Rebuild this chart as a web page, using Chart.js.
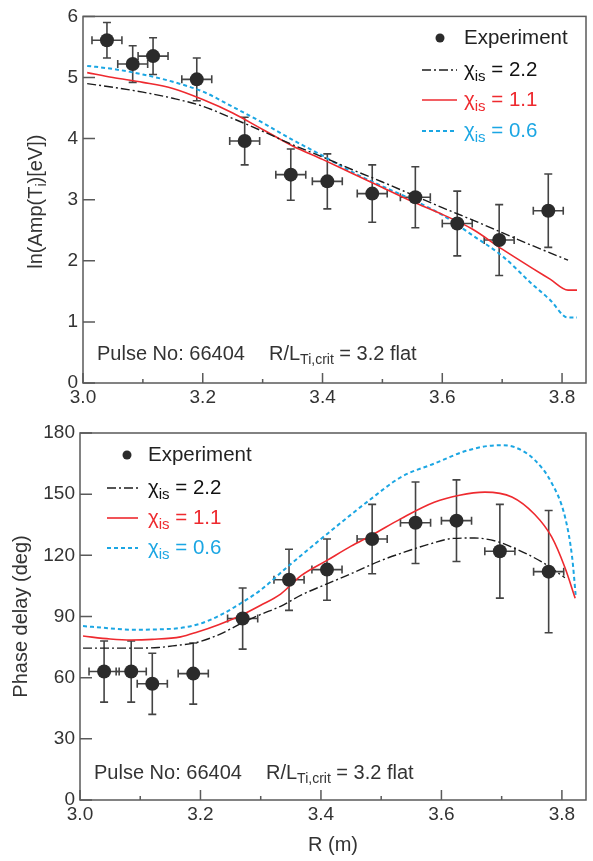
<!DOCTYPE html>
<html>
<head>
<meta charset="utf-8">
<script src="https://cdn.jsdelivr.net/npm/chart.js@4.4.1/dist/chart.umd.min.js"></script>
<style>
  body { margin: 0; background: #fff; }
  .panel { position: absolute; left: 0; width: 593px; }
</style>
</head>
<body>
<div class="panel" style="top:0;height:410px"><canvas id="ampChart"></canvas></div>
<div class="panel" style="top:410px;height:451px"><canvas id="phaseChart"></canvas></div>
<script>
// ---- top panel: ln(Amp(Ti)) ----
var ampR    = [3.04, 3.083, 3.117, 3.19, 3.27, 3.347, 3.408, 3.483, 3.555, 3.625, 3.695, 3.777];
var ampVal  = [5.61, 5.22, 5.35, 4.97, 3.96, 3.41, 3.30, 3.10, 3.04, 2.61, 2.34, 2.82];
var ampErr  = [0.29, 0.30, 0.30, 0.35, 0.39, 0.42, 0.45, 0.47, 0.50, 0.53, 0.58, 0.60];
var ampRErr = 0.025;

var ampGrid  = [3.007, 3.05, 3.1, 3.15, 3.2, 3.25, 3.3, 3.35, 3.4, 3.45, 3.5, 3.55, 3.6, 3.65, 3.7, 3.75, 3.78, 3.81, 3.825];
var ampChi22 = [4.90, 4.84, 4.76, 4.66, 4.53, 4.33, 4.12, 3.90, 3.70, 3.49, 3.29, 3.08, 2.87, 2.67, 2.46, 2.25, 2.13, 2.01];
var ampChi11 = [5.08, 5.00, 4.92, 4.82, 4.64, 4.42, 4.15, 3.88, 3.66, 3.43, 3.20, 2.97, 2.76, 2.52, 2.19, 1.88, 1.70, 1.52, 1.52];
var ampChi06 = [5.19, 5.14, 5.05, 4.93, 4.77, 4.52, 4.26, 3.98, 3.72, 3.45, 3.22, 3.00, 2.75, 2.42, 2.08, 1.62, 1.36, 1.07, 1.07];

// ---- bottom panel: phase delay ----
var phR    = [3.04, 3.085, 3.12, 3.188, 3.27, 3.347, 3.41, 3.485, 3.557, 3.625, 3.697, 3.778];
var phVal  = [63, 63, 57, 62, 89, 108, 113, 128, 136, 137, 122, 112];
var phErr  = [15, 15, 15, 15, 15, 15, 15, 17, 20, 20, 23, 30];
var phRErr = 0.025;

var phChi22R = [3.005, 3.05, 3.1, 3.13, 3.16, 3.19, 3.23, 3.27, 3.3, 3.333, 3.367, 3.41, 3.45, 3.5, 3.533, 3.58, 3.62, 3.655, 3.69, 3.717, 3.767, 3.805];
var phChi22  = [74.5, 74.5, 74.5, 74.8, 75.8, 77, 81, 87, 91, 95, 100.5, 106, 111, 117.5, 121, 125.5, 128.3, 128.5, 127, 124, 116.7, 109];
var phChi11R = [3.005, 3.05, 3.085, 3.12, 3.167, 3.195, 3.23, 3.267, 3.3, 3.333, 3.367, 3.41, 3.45, 3.485, 3.533, 3.588, 3.63, 3.672, 3.717, 3.755, 3.783, 3.805, 3.822];
var phChi11  = [80.4, 79, 78.5, 78.8, 80, 82.4, 86, 90.5, 95.5, 101, 110, 117.5, 124.5, 130, 138, 146, 149.5, 151, 148.6, 140, 129, 114, 99];
var phChi06R = [3.005, 3.05, 3.085, 3.12, 3.167, 3.2, 3.235, 3.267, 3.3, 3.347, 3.4, 3.45, 3.478, 3.533, 3.588, 3.645, 3.695, 3.722, 3.755, 3.783, 3.805, 3.817, 3.823];
var phChi06  = [85.3, 84.2, 83.5, 83.6, 84.4, 86.5, 91, 96.5, 103, 115, 128, 140, 146.5, 158.4, 165, 171.6, 174, 173, 166.7, 155.5, 139, 119, 100];

var FONT = '"Liberation Sans", Arial, Helvetica, sans-serif';
var INK = '#2b2b2b';
var RED = '#ee2a2f';
var BLUE = '#1ba6e3';
var BLACK = '#1c1c1c';

function pairs(xs, ys) {
    var out = [];
    for (var i = 0; i < ys.length; i++) out.push({x: xs[i], y: ys[i]});
    return out;
}

// text with subscripts: parts = [[text, isSub], ...]
function partsWidth(ctx, parts, size) {
    var w = 0;
    parts.forEach(function (p) {
        ctx.font = (p[1] ? Math.round(size * 0.72) : size) + 'px ' + FONT;
        w += ctx.measureText(p[0]).width;
    });
    return w;
}
function drawParts(ctx, parts, x, y, size, color) {
    ctx.fillStyle = color;
    ctx.textBaseline = 'middle';
    ctx.textAlign = 'left';
    parts.forEach(function (p) {
        ctx.font = (p[1] ? Math.round(size * 0.72) : size) + 'px ' + FONT;
        ctx.fillText(p[0], x, p[1] ? y + size * 0.32 : y);
        x += ctx.measureText(p[0]).width;
    });
}

function makeDecor(cfg) {
    return {
        id: 'decor',
        beforeDatasetsDraw: function (chart) {
            var ctx = chart.ctx, xs = chart.scales.x, ys = chart.scales.y;
            ctx.save();
            ctx.strokeStyle = '#444';
            ctx.lineWidth = 1.6;
            cfg.r.forEach(function (r, i) {
                var px = xs.getPixelForValue(r), py = ys.getPixelForValue(cfg.v[i]);
                var yT = ys.getPixelForValue(cfg.v[i] + cfg.dv[i]);
                var yB = ys.getPixelForValue(cfg.v[i] - cfg.dv[i]);
                var xL = xs.getPixelForValue(r - cfg.dr), xR = xs.getPixelForValue(r + cfg.dr);
                ctx.beginPath();
                ctx.moveTo(px, yT); ctx.lineTo(px, yB);
                ctx.moveTo(px - 4, yT); ctx.lineTo(px + 4, yT);
                ctx.moveTo(px - 4, yB); ctx.lineTo(px + 4, yB);
                ctx.moveTo(xL, py); ctx.lineTo(xR, py);
                ctx.moveTo(xL, py - 4); ctx.lineTo(xL, py + 4);
                ctx.moveTo(xR, py - 4); ctx.lineTo(xR, py + 4);
                ctx.stroke();
            });
            ctx.restore();
        },
        afterDraw: function (chart) {
            var ctx = chart.ctx, a = chart.chartArea, xs = chart.scales.x, ys = chart.scales.y;
            ctx.save();
            // frame
            ctx.strokeStyle = '#5a5a5a';
            ctx.lineWidth = 1.5;
            ctx.strokeRect(a.left, a.top, a.right - a.left, a.bottom - a.top);
            // inward ticks
            ctx.beginPath();
            xs.ticks.forEach(function (t) {
                var px = xs.getPixelForValue(t.value);
                var major = Math.round(t.value * 10) % 2 === 0;
                ctx.moveTo(px, a.bottom);
                ctx.lineTo(px, a.bottom - (major ? 10 : 4));
            });
            ys.ticks.forEach(function (t) {
                var py = ys.getPixelForValue(t.value);
                ctx.moveTo(a.left, py);
                ctx.lineTo(a.left + 12, py);
            });
            ctx.stroke();

            // y title
            var w = partsWidth(ctx, cfg.yTitle, 20);
            ctx.save();
            ctx.translate(cfg.yTitleX, (a.top + a.bottom) / 2 + cfg.yTitleShift);
            ctx.rotate(-Math.PI / 2);
            drawParts(ctx, cfg.yTitle, -w / 2, 0, 20, '#333');
            ctx.restore();

            // x title
            if (cfg.xTitle) {
                ctx.font = '20px ' + FONT;
                ctx.fillStyle = '#333';
                ctx.textAlign = 'center';
                ctx.textBaseline = 'middle';
                ctx.fillText(cfg.xTitle, (a.left + a.right) / 2, cfg.xTitleY);
            }

            // legend
            var L = cfg.legend;
            L.rows.forEach(function (row, i) {
                var y = L.y[i];
                if (row.kind === 'point') {
                    ctx.fillStyle = INK;
                    ctx.beginPath();
                    ctx.arc(L.pointX, y, 4.5, 0, Math.PI * 2);
                    ctx.fill();
                } else {
                    ctx.strokeStyle = row.color;
                    ctx.lineWidth = row.width;
                    ctx.setLineDash(row.dash);
                    ctx.beginPath();
                    ctx.moveTo(L.x0, y);
                    ctx.lineTo(L.x1, y);
                    ctx.stroke();
                    ctx.setLineDash([]);
                }
                drawParts(ctx, row.text, L.textX, y, 20.5, row.textColor);
            });

            // note
            drawParts(ctx, [['Pulse No: 66404', 0]], a.left + 14, cfg.noteY, 20, '#333');
            drawParts(ctx, [['R/L', 0], ['Ti,crit', 1], [' = 3.2 flat', 0]], a.left + 186, cfg.noteY, 20, '#333');
            ctx.restore();
        }
    };
}

var chiRows = [
    {kind: 'point', text: [['Experiment', 0]], textColor: '#222'},
    {kind: 'line', color: BLACK, width: 1.4, dash: [9, 3, 2, 3], text: [['\u03c7', 0], ['is', 1], [' = 2.2', 0]], textColor: '#111'},
    {kind: 'line', color: RED, width: 1.6, dash: [], text: [['\u03c7', 0], ['is', 1], [' = 1.1', 0]], textColor: RED},
    {kind: 'line', color: BLUE, width: 2, dash: [4, 3], text: [['\u03c7', 0], ['is', 1], [' = 0.6', 0]], textColor: BLUE}
];

function makeChart(id, d) {
    return new Chart(document.getElementById(id), {
        type: 'scatter',
        data: {
            datasets: [
                {data: pairs(d.r, d.v), pointRadius: 7, pointBackgroundColor: INK, pointBorderWidth: 0, showLine: false},
                {data: pairs(d.c22R, d.c22), showLine: true, borderColor: BLACK, borderWidth: 1.4, borderDash: [9, 3, 2, 3], pointRadius: 0, cubicInterpolationMode: 'monotone'},
                {data: pairs(d.c11R, d.c11), showLine: true, borderColor: RED, borderWidth: 1.6, pointRadius: 0, cubicInterpolationMode: 'monotone'},
                {data: pairs(d.c06R, d.c06), showLine: true, borderColor: BLUE, borderWidth: 2, borderDash: [4, 3], pointRadius: 0, cubicInterpolationMode: 'monotone'}
            ]
        },
        options: {
            responsive: true,
            maintainAspectRatio: false,
            animation: false,
            layout: {padding: d.padding},
            plugins: {legend: {display: false}, tooltip: {enabled: false}},
            scales: {
                x: {
                    type: 'linear', min: 3.0, max: 3.84,
                    grid: {display: false, drawTicks: false}, border: {display: false},
                    ticks: {
                        stepSize: 0.1, includeBounds: false, autoSkip: false, maxRotation: 0, padding: 3,
                        color: '#333', font: {family: FONT, size: 19},
                        callback: function (v) { return Math.round(v * 10) % 2 === 0 ? v.toFixed(1) : ''; }
                    },
                    afterFit: function (s) { s.height = d.xHeight; }
                },
                y: {
                    min: d.yMin, max: d.yMax,
                    grid: {display: false, drawTicks: false}, border: {display: false},
                    ticks: {stepSize: d.yStep, padding: 5, color: '#333', font: {family: FONT, size: 19}},
                    afterFit: function (s) { s.width = d.yWidth; }
                }
            }
        },
        plugins: [makeDecor(d.decor)]
    });
}

makeChart('ampChart', {
    r: ampR, v: ampVal,
    c22R: ampGrid, c22: ampChi22, c11R: ampGrid, c11: ampChi11, c06R: ampGrid, c06: ampChi06,
    yMin: 0, yMax: 6, yStep: 1, yWidth: 83, xHeight: 27,
    padding: {top: 14, right: 6, left: 0, bottom: 0},
    decor: {
        r: ampR, v: ampVal, dv: ampErr, dr: ampRErr,
        yTitle: [['ln(Amp(T', 0], ['i', 1], [')[eV])', 0]], yTitleX: 36, yTitleShift: 2,
        xTitle: null, noteY: 354,
        legend: {rows: chiRows, y: [38, 70, 100, 131], pointX: 440, x0: 422, x1: 457, textX: 464}
    }
});

makeChart('phaseChart', {
    r: phR, v: phVal,
    c22R: phChi22R, c22: phChi22, c11R: phChi11R, c11: phChi11, c06R: phChi06R, c06: phChi06,
    yMin: 0, yMax: 180, yStep: 30, yWidth: 80, xHeight: 61,
    padding: {top: 23, right: 4, left: 0, bottom: 0},
    decor: {
        r: phR, v: phVal, dv: phErr, dr: phRErr,
        yTitle: [['Phase delay (deg)', 0]], yTitleX: 21, yTitleShift: 0,
        xTitle: 'R (m)', xTitleY: 435, noteY: 363,
        legend: {rows: chiRows, y: [45, 78, 108, 138], pointX: 127, x0: 107, x1: 138, textX: 148}
    }
});
</script>
</body>
</html>
